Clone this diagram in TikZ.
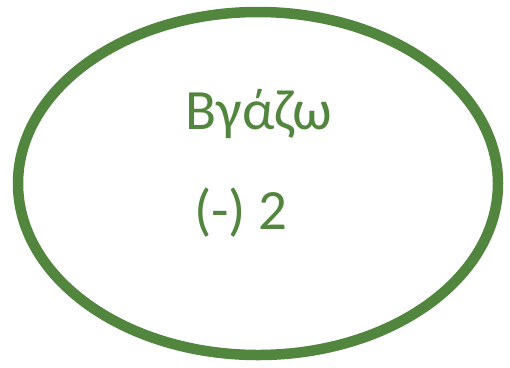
\documentclass[tikz,border=0pt]{standalone}
\usepackage{fontspec}
\setmainfont{Carlito}
\usepackage{xcolor}
\usetikzlibrary{shapes.geometric}
\definecolor{leafgreen}{RGB}{82,134,62}

\begin{document}
\begin{tikzpicture}[x=1pt, y=-1pt, font=\fontsize{57}{68}\selectfont]
  \useasboundingbox (0,0) rectangle (510,367);
  \node[draw=leafgreen, line width=10.5pt, ellipse, minimum width=480pt, minimum height=343pt, inner sep=0pt] (bubble) at (258,183.5) {};
  \node[text=leafgreen, anchor=base, inner sep=0pt] (verb) at (259,129) {Βγάζω};
  \node[text=leafgreen, anchor=base, inner sep=0pt] (score) at (241,229) {(-) 2};
\end{tikzpicture}
\end{document}
